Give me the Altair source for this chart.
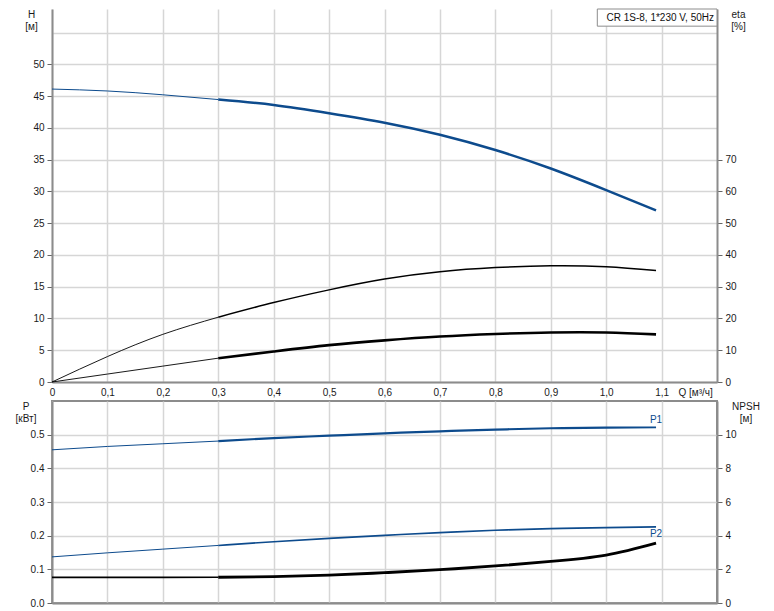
import altair as alt
import pandas as pd

# ---------------- data ----------------
Q = [0.0, 0.1, 0.2, 0.3, 0.4, 0.5, 0.6, 0.7, 0.8, 0.9, 1.0, 1.09]
H = [46.1, 45.8, 45.2, 44.45, 43.6, 42.3, 40.8, 38.9, 36.5, 33.6, 30.2, 27.0]
ETA_PUMP = [0.0, 8.0, 15.0, 20.4, 25.0, 29.0, 32.4, 34.7, 36.0, 36.6, 36.3, 35.1]
ETA_TOTAL = [0.0, 2.5, 5.0, 7.5, 9.6, 11.6, 13.1, 14.3, 15.1, 15.6, 15.6, 15.0]
P1 = [0.455, 0.465, 0.473, 0.481, 0.490, 0.497, 0.504, 0.510, 0.515, 0.519, 0.521, 0.522]
P2 = [0.137, 0.149, 0.160, 0.171, 0.182, 0.192, 0.201, 0.209, 0.216, 0.221, 0.224, 0.226]
NPSH = [1.52, 1.52, 1.52, 1.53, 1.57, 1.66, 1.80, 1.98, 2.20, 2.47, 2.85, 3.56]
Q_SPLIT = 0.3  # thin part of the curves ends here

X_TICKS = [0, 0.1, 0.2, 0.3, 0.4, 0.5, 0.6, 0.7, 0.8, 0.9, 1.0, 1.1]
H_TICKS = [0, 5, 10, 15, 20, 25, 30, 35, 40, 45, 50, 55]
ETA_TICKS = [0, 10, 20, 30, 40, 50, 60, 70]
P_TICKS = [0, 0.1, 0.2, 0.3, 0.4, 0.5]
NPSH_TICKS = [0, 2, 4, 6, 8, 10]
BOX_TEXT = "CR 1S-8, 1*230 V, 50Hz"
P_LABELS = ["P1", "P2"]

Q_DOMAIN = [0, 1.2]
H_DOMAIN = [0, 58.7]
ETA_DOMAIN = [0, 117.4]
P_DOMAIN = [0, 0.6]
NPSH_DOMAIN = [0, 12]

BLUE = "#0d4b8d"
BLACK = "#000000"
FONT = "Liberation Sans"

rows = []
for name, vals in [("H", H), ("eta", ETA_PUMP), ("eta1", ETA_TOTAL),
                   ("P1", P1), ("P2", P2), ("NPSH", NPSH)]:
    for q, v in zip(Q, vals):
        rows.append({"Q": q, "v": v, "s": name})
df = pd.DataFrame(rows)

box_df = pd.DataFrame([{"Q": 0.984, "Q2": 1.2, "v": H_DOMAIN[1], "v2": 56.0,
                        "vm": 57.35, "t": BOX_TEXT}])
lab_df = pd.DataFrame([{"Q": Q[-1], "v": P1[-1], "t": P_LABELS[0]},
                       {"Q": Q[-1], "v": P2[-1], "t": P_LABELS[1]}])

# ---------------- encodings ----------------
x_top_axis = alt.Axis(values=X_TICKS, grid=True, ticks=False, tickSize=0, labelPadding=5,
                      labelFlush=False,
                      labelExpr="datum.value == 0 ? '0' : replace(format(datum.value, '.1f'), '.', ',')",
                      title="Q [м³/ч]", titleAlign="left", titleBaseline="top",
                      titleX=626, titleY=5, titleFontWeight="normal")
x_bot_axis = alt.Axis(values=X_TICKS, grid=True, ticks=False, tickSize=0, labels=False,
                      title="")
x_scale = alt.Scale(domain=Q_DOMAIN, nice=False, zero=False)


def X(axis, field="Q"):
    return alt.X(f"{field}:Q", scale=x_scale, axis=axis)


h_axis = alt.Axis(values=H_TICKS, grid=True, orient="left",
                  labelExpr="datum.value <= 50 ? datum.label : ''",
                  tickColor={"condition": {"test": "datum.value <= 50", "value": "#666666"},
                             "value": "transparent"},
                  title=["H", "[м]"], titleAngle=0, titleAlign="center", titleBaseline="top",
                  titleX=-21, titleY=0)
eta_axis = alt.Axis(values=ETA_TICKS, grid=False, orient="right",
                    title=["eta", "[%]"], titleAngle=0, titleAlign="center",
                    titleBaseline="top", titleX=21, titleY=0)
p_axis = alt.Axis(values=P_TICKS, grid=True, orient="left", format=".1f",
                  title=["P", "[кВт]"], titleAngle=0, titleAlign="center",
                  titleBaseline="top", titleX=-26.5, titleY=0)
npsh_axis = alt.Axis(values=NPSH_TICKS, grid=False, orient="right",
                     title=["NPSH", "[м]"], titleAngle=0, titleAlign="center",
                     titleBaseline="top", titleX=28.5, titleY=0)


def Y(axis, domain, field="v"):
    return alt.Y(f"{field}:Q", scale=alt.Scale(domain=domain, nice=False, zero=False), axis=axis)


def seg(name, thin, color, width, xaxis, yaxis, ydomain):
    cond = f"datum.Q <= {Q_SPLIT}" if thin else f"datum.Q >= {Q_SPLIT}"
    return (alt.Chart(df)
            .transform_filter(f"datum.s == '{name}'")
            .transform_filter(cond)
            .mark_line(color=color, strokeWidth=width, interpolate="natural")
            .encode(x=X(xaxis), y=Y(yaxis, ydomain)))


# ---------------- top panel ----------------
box = (alt.Chart(box_df).mark_rect(fill="white", stroke="#8c8c8c", strokeWidth=1)
       .encode(x=X(x_top_axis), x2="Q2:Q", y=Y(h_axis, H_DOMAIN), y2="v2:Q"))
box_text = (alt.Chart(box_df)
            .mark_text(align="right", baseline="middle", dx=-3, font=FONT, fontSize=10,
                       color="#111111")
            .encode(x=X(x_top_axis, "Q2"), y=Y(h_axis, H_DOMAIN, "vm"), text="t:N"))

left_top = alt.layer(
    seg("H", True, BLUE, 1.0, x_top_axis, h_axis, H_DOMAIN),
    seg("H", False, BLUE, 2.5, x_top_axis, h_axis, H_DOMAIN),
    box, box_text,
)
right_top = alt.layer(
    seg("eta", True, BLACK, 0.9, x_top_axis, eta_axis, ETA_DOMAIN),
    seg("eta", False, BLACK, 1.5, x_top_axis, eta_axis, ETA_DOMAIN),
    seg("eta1", True, BLACK, 0.9, x_top_axis, eta_axis, ETA_DOMAIN),
    seg("eta1", False, BLACK, 2.6, x_top_axis, eta_axis, ETA_DOMAIN),
)
top = (alt.layer(left_top, right_top)
       .resolve_scale(y="independent")
       .properties(width=665, height=373,
                   view=alt.ViewBackground(strokeOpacity=0)))

# ---------------- bottom panel ----------------
p_labels = (alt.Chart(lab_df).transform_filter("datum.t == 'P1'")
            .mark_text(align="center", baseline="bottom", dy=-2, font=FONT, fontSize=10, color=BLUE)
            .encode(x=X(x_bot_axis), y=Y(p_axis, P_DOMAIN), text="t:N"))
p2_label = (alt.Chart(lab_df).transform_filter("datum.t == 'P2'")
            .mark_text(align="center", baseline="top", dy=2, font=FONT, fontSize=10, color=BLUE)
            .encode(x=X(x_bot_axis), y=Y(p_axis, P_DOMAIN), text="t:N"))

left_bot = alt.layer(
    seg("P1", True, BLUE, 1.0, x_bot_axis, p_axis, P_DOMAIN),
    seg("P1", False, BLUE, 2.2, x_bot_axis, p_axis, P_DOMAIN),
    seg("P2", True, BLUE, 1.0, x_bot_axis, p_axis, P_DOMAIN),
    seg("P2", False, BLUE, 1.6, x_bot_axis, p_axis, P_DOMAIN),
    p_labels, p2_label,
)
right_bot = alt.layer(
    seg("NPSH", True, BLACK, 1.7, x_bot_axis, npsh_axis, NPSH_DOMAIN),
    seg("NPSH", False, BLACK, 2.8, x_bot_axis, npsh_axis, NPSH_DOMAIN),
)
bottom = (alt.layer(left_bot, right_bot)
          .resolve_scale(y="independent")
          .properties(width=665, height=202))

chart = (alt.vconcat(top, bottom, spacing=19, bounds="flush",
                     padding={"left": 6, "top": 0, "right": 4, "bottom": 0})
         .configure_view(stroke="#8c8c8c", strokeWidth=2)
         .configure_axis(labelFont=FONT, labelFontSize=10, labelColor="#1a1a1a",
                         titleFont=FONT, titleFontSize=10, titleColor="#1a1a1a",
                         titleFontWeight="normal", titleLineHeight=12,
                         domainColor="#8c8c8c", domainWidth=2,
                         tickColor="#666666", tickWidth=1, tickSize=5, labelPadding=3,
                         gridColor="#d6d6d6", gridWidth=1.5, labelOverlap=False))

chart.save("out.html", embed_options={"renderer": "svg", "actions": False})
